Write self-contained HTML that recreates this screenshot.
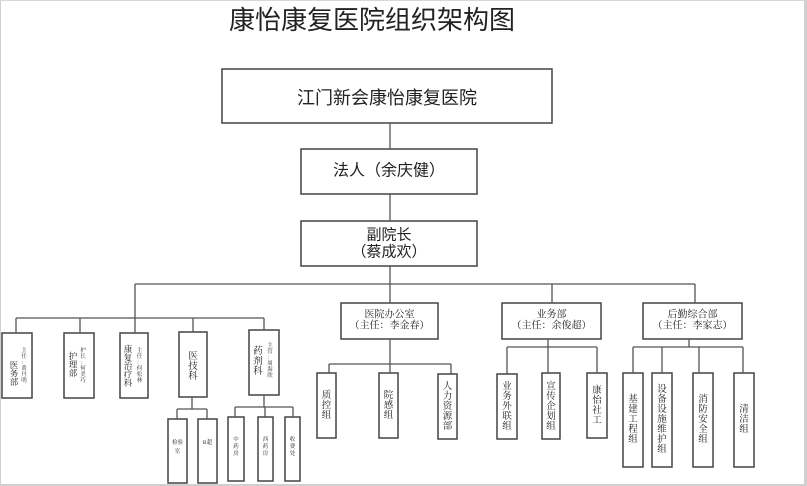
<!DOCTYPE html>
<html><head><meta charset="utf-8"><style>
html,body{margin:0;padding:0;background:#fff;}
svg{display:block;}
.s{font-family:"Liberation Sans","Noto Sans CJK SC",sans-serif;fill:#222;}
.r{font-family:"Liberation Serif","Noto Serif CJK SC",serif;fill:#222;}
</style></head><body>
<svg width="807" height="486" viewBox="0 0 807 486" xmlns="http://www.w3.org/2000/svg">
<rect x="0" y="0" width="807" height="486" fill="#fff"/>
<line x1="0.5" y1="0" x2="0.5" y2="486" stroke="#cfcfcf" stroke-width="1"/>
<line x1="0" y1="0.5" x2="807" y2="0.5" stroke="#d8d8d8" stroke-width="1"/>
<rect x="804" y="0" width="3" height="486" fill="#d0d0d0"/>
<rect x="0" y="484" width="807" height="2" fill="#d0d0d0"/>

<text class="s" x="229" y="20" font-size="26" dominant-baseline="central" fill="#333">康怡康复医院组织架构图</text>

<g fill="none" stroke="#444" stroke-width="1.5">
<rect x="222" y="69" width="330" height="54"/>
<rect x="301" y="149" width="176" height="45"/>
<rect x="301" y="221" width="176" height="45"/>
<rect x="341" y="303" width="97" height="36"/>
<rect x="502" y="303" width="99" height="36"/>
<rect x="643" y="303" width="99" height="36"/>
<rect x="2" y="333" width="30" height="65"/>
<rect x="64" y="333" width="30" height="65"/>
<rect x="120" y="333" width="28" height="65"/>
<rect x="179" y="332" width="28" height="65"/>
<rect x="249" y="330" width="30" height="65"/>
<rect x="168" y="419" width="19" height="64"/>
<rect x="198" y="419" width="19" height="64"/>
<rect x="228" y="417" width="16" height="64"/>
<rect x="258" y="417" width="15" height="64"/>
<rect x="285" y="417" width="15" height="64"/>
<rect x="317" y="373" width="19" height="65"/>
<rect x="379" y="373" width="19" height="65"/>
<rect x="438" y="374" width="19" height="65"/>
<rect x="497" y="374" width="20" height="65"/>
<rect x="542" y="373" width="18" height="66"/>
<rect x="587" y="373" width="20" height="65"/>
<rect x="623" y="373" width="20" height="94"/>
<rect x="652" y="373" width="20" height="94"/>
<rect x="693" y="373" width="20" height="94"/>
<rect x="734" y="373" width="20" height="94"/>
</g>

<g fill="none" stroke="#555" stroke-width="1.3">
<line x1="390" y1="123" x2="390" y2="149"/>
<line x1="390" y1="194" x2="390" y2="221"/>
<line x1="390" y1="266" x2="390" y2="303"/>
<line x1="135" y1="284" x2="695" y2="284"/>
<line x1="135" y1="284" x2="135" y2="333"/>
<line x1="16" y1="318" x2="264" y2="318"/>
<line x1="16" y1="318" x2="16" y2="333"/>
<line x1="80" y1="318" x2="80" y2="333"/>
<line x1="193" y1="318" x2="193" y2="332"/>
<line x1="264" y1="318" x2="264" y2="330"/>
<line x1="192" y1="397" x2="192" y2="409"/>
<line x1="177" y1="409" x2="207" y2="409"/>
<line x1="177" y1="409" x2="177" y2="419"/>
<line x1="207" y1="409" x2="207" y2="419"/>
<line x1="264" y1="395" x2="264" y2="407"/>
<line x1="235" y1="407" x2="293" y2="407"/>
<line x1="235" y1="407" x2="235" y2="417"/>
<line x1="265" y1="407" x2="265" y2="417"/>
<line x1="293" y1="407" x2="293" y2="417"/>
<line x1="390" y1="339" x2="390" y2="373"/>
<line x1="329" y1="364" x2="451" y2="364"/>
<line x1="329" y1="364" x2="329" y2="373"/>
<line x1="451" y1="364" x2="451" y2="374"/>
<line x1="552" y1="284" x2="552" y2="303"/>
<line x1="548" y1="339" x2="548" y2="373"/>
<line x1="507" y1="347" x2="597" y2="347"/>
<line x1="507" y1="347" x2="507" y2="374"/>
<line x1="597" y1="347" x2="597" y2="373"/>
<line x1="695" y1="284" x2="695" y2="303"/>
<line x1="689" y1="339" x2="689" y2="347"/>
<line x1="633" y1="347" x2="743" y2="347"/>
<line x1="633" y1="347" x2="633" y2="373"/>
<line x1="662" y1="347" x2="662" y2="373"/>
<line x1="699" y1="347" x2="699" y2="373"/>
<line x1="743" y1="347" x2="743" y2="373"/>
</g>

<g class="s" text-anchor="middle" dominant-baseline="central">
<text x="387" y="98" font-size="18">江门新会康怡康复医院</text>
<text x="389" y="171" font-size="16">法人（余庆健）</text>
<text x="389" y="235" font-size="15">副院长</text>
<text x="389" y="252" font-size="15">（蔡成欢）</text>
</g>

<g class="r" text-anchor="middle" dominant-baseline="central" font-size="10">
<text x="389.5" y="315">医院办公室</text>
<text x="389.5" y="326">（主任：李金春）</text>
<text x="551.5" y="315">业务部</text>
<text x="551.5" y="326">（主任：余俊超）</text>
<text x="692.5" y="315">后勤综合部</text>
<text x="692.5" y="326">（主任：李家志）</text>
</g>

<g class="r" text-anchor="middle" dominant-baseline="central" font-size="9.5">
<text x="326.5" y="396">质</text><text x="326.5" y="406">控</text><text x="326.5" y="416">组</text>
<text x="388.5" y="396">院</text><text x="388.5" y="406">感</text><text x="388.5" y="416">组</text>
<text x="447.5" y="387">人</text><text x="447.5" y="397">力</text><text x="447.5" y="407">资</text><text x="447.5" y="417">源</text><text x="447.5" y="427">部</text>
<text x="507" y="387">业</text><text x="507" y="397">务</text><text x="507" y="407">外</text><text x="507" y="417">联</text><text x="507" y="427">组</text>
<text x="551" y="387">宣</text><text x="551" y="397">传</text><text x="551" y="407">企</text><text x="551" y="417">划</text><text x="551" y="427">组</text>
<text x="597" y="391">康</text><text x="597" y="401">怡</text><text x="597" y="411">社</text><text x="597" y="421">工</text>
<text x="633" y="400">基</text><text x="633" y="410">建</text><text x="633" y="420">工</text><text x="633" y="430">程</text><text x="633" y="440">组</text>
<text x="662" y="390">设</text><text x="662" y="400">备</text><text x="662" y="410">设</text><text x="662" y="420">施</text><text x="662" y="430">维</text><text x="662" y="440">护</text><text x="662" y="450">组</text>
<text x="703" y="400">消</text><text x="703" y="410">防</text><text x="703" y="420">安</text><text x="703" y="430">全</text><text x="703" y="440">组</text>
<text x="744" y="410">清</text><text x="744" y="420">洁</text><text x="744" y="430">组</text>
<text x="193" y="357">医</text><text x="193" y="367">技</text><text x="193" y="377">科</text>
<text x="258" y="352">药</text><text x="258" y="362">剂</text><text x="258" y="372">科</text>
</g>

<g class="r" text-anchor="middle" dominant-baseline="central" font-size="8.5">
<text x="14" y="365">医</text><text x="14" y="373.5">务</text><text x="14" y="382">部</text>
<text x="73" y="356">护</text><text x="73" y="364.5">理</text><text x="73" y="373">部</text>
<text x="128" y="349">康</text><text x="128" y="357.5">复</text><text x="128" y="366">治</text><text x="128" y="374.5">疗</text><text x="128" y="383">科</text>
</g>

<g class="r" text-anchor="middle" dominant-baseline="central" font-size="5.5">
<text x="24" y="351">主</text><text x="24" y="357">任</text><text x="24" y="363">：</text><text x="24" y="369">黄</text><text x="24" y="375">丹</text><text x="24" y="381">明</text>
<text x="83" y="351">护</text><text x="83" y="357">长</text><text x="83" y="363">：</text><text x="83" y="369">何</text><text x="83" y="375">美</text><text x="83" y="381">巧</text>
<text x="139.5" y="351">主</text><text x="139.5" y="357">任</text><text x="139.5" y="363">：</text><text x="139.5" y="369">何</text><text x="139.5" y="375">松</text><text x="139.5" y="381">林</text>
<text x="270" y="346">主</text><text x="270" y="352">管</text><text x="270" y="358">：</text><text x="270" y="364">周</text><text x="270" y="370">海</text><text x="270" y="376">欣</text>
<text x="177.5" y="443">检验</text><text x="177.5" y="452">室</text>
<text x="207.5" y="443">B超</text>
<text x="236" y="440">中</text><text x="236" y="447">药</text><text x="236" y="454">房</text>
<text x="265.5" y="440">西</text><text x="265.5" y="447">药</text><text x="265.5" y="454">房</text>
<text x="292.5" y="440">收</text><text x="292.5" y="447">费</text><text x="292.5" y="454">处</text>
</g>
</svg>
</body></html>
